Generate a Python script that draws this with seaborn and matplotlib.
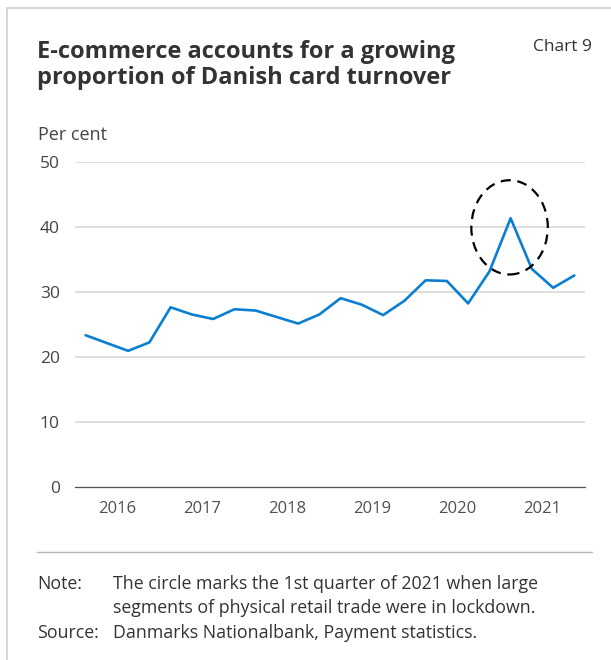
import matplotlib
matplotlib.use("Agg")
import matplotlib.pyplot as plt
from matplotlib.patches import Ellipse
from matplotlib.lines import Line2D
import seaborn as sns
import pandas as pd
import numpy as np

# Quarterly e-commerce share of Danish card turnover, 2016 Q1 - 2021 Q4
years = ["2016", "2017", "2018", "2019", "2020", "2021"]
quarters = ["Q1", "Q2", "Q3", "Q4"]
share = [23.3, 22.1, 20.9, 22.2,
         27.6, 26.5, 25.8, 27.3,
         27.1, 26.1, 25.1, 26.5,
         29.0, 28.0, 26.4, 28.6,
         31.75, 31.65, 28.2, 33.1,
         41.3, 33.5, 30.6, 32.5]
y_ticks = [0, 10, 20, 30, 40, 50]

labels = [f"{y} {q}" for y in years for q in quarters]
df = pd.DataFrame({"period": labels, "pos": np.arange(len(labels)), "share": share})

sns.set_theme(style="white")
plt.rcParams["font.family"] = ["Open Sans", "DejaVu Sans"]

W, H = 611, 660
fig = plt.figure(figsize=(W / 100, H / 100), dpi=100)
fig.patch.set_facecolor("white")

def fx(px):
    return px / W

def fy(py):
    return 1 - py / H

ax = fig.add_axes([fx(75), fy(486.7), fx(585) - fx(75), fy(161.7) - fy(486.7)])
ax.set_facecolor("white")

blue = "#0a7fd2"
sns.lineplot(data=df, x="pos", y="share", ax=ax, color=blue, linewidth=1.9,
             clip_on=False, zorder=3)

ax.set_xlim(-0.5, len(labels) - 0.5)
ax.set_ylim(0, 50)

# horizontal grid
for v in y_ticks[1:]:
    ax.axhline(v, color="#d4d4d4", linewidth=1.1, zorder=1)

for s in ["top", "right", "left"]:
    ax.spines[s].set_visible(False)
ax.spines["bottom"].set_color("#555555")
ax.spines["bottom"].set_linewidth(0.9)

ax.set_yticks(y_ticks)
ax.set_yticklabels([str(v) for v in y_ticks])
ax.tick_params(axis="y", length=0, pad=11, labelsize=12.5, labelcolor="#444444")

# year boundaries as ticks, year names centred between them
ax.set_xticks(np.arange(-0.5, len(labels), 4))
ax.set_xticklabels([])
ax.tick_params(axis="x", direction="in", length=4.5, width=0.9, color="#555555")
for i, yr in enumerate(years):
    ax.text(i * 4 + 1.5, -3.4, yr, ha="center", va="center", fontsize=12,
            color="#505050", transform=ax.transData)
ax.set_xlabel("")
ax.set_ylabel("")

# dashed circle around 2021 Q1
ax.add_patch(Ellipse((19.95, 39.9), width=3.6, height=14.5, fill=False,
                     edgecolor="black", linewidth=1.6, linestyle=(0, (4.5, 3)),
                     zorder=4, clip_on=False))

# texts
fig.text(fx(37), fy(57.5), "E-commerce accounts for a growing",
         ha="left", va="baseline", fontsize=17, fontweight="bold", color="#333333")
fig.text(fx(37), fy(84.5), "proportion of Danish card turnover",
         ha="left", va="baseline", fontsize=17, fontweight="bold", color="#333333")
fig.text(fx(592), fy(47), "Chart 9", ha="right", va="center", fontsize=12.5, color="#333333")
fig.text(fx(38), fy(140.5), "Per cent", ha="left", va="baseline", fontsize=13, color="#444444")

note_size = 12.8
fig.text(fx(37), fy(584), "Note:", ha="left", va="center", fontsize=note_size, color="#333333")
fig.text(fx(113), fy(584), "The circle marks the 1st quarter of 2021 when large",
         ha="left", va="center", fontsize=note_size, color="#333333")
fig.text(fx(113), fy(608), "segments of physical retail trade were in lockdown.",
         ha="left", va="center", fontsize=note_size, color="#333333")
fig.text(fx(37), fy(633), "Source:", ha="left", va="center", fontsize=note_size, color="#333333")
fig.text(fx(113), fy(633), "Danmarks Nationalbank, Payment statistics.",
         ha="left", va="center", fontsize=note_size, color="#333333")

# separator and frame lines
fig.add_artist(Line2D([fx(37), fx(592)], [fy(552), fy(552)], color="#b5b5b5", linewidth=1.0))
fig.add_artist(Line2D([fx(7), fx(611)], [fy(8), fy(8)], color="#cfcfcf", linewidth=1.2))
fig.add_artist(Line2D([fx(7), fx(7)], [fy(8), fy(660)], color="#cfcfcf", linewidth=1.2))

fig.savefig("out.png", dpi=100, facecolor="white")
